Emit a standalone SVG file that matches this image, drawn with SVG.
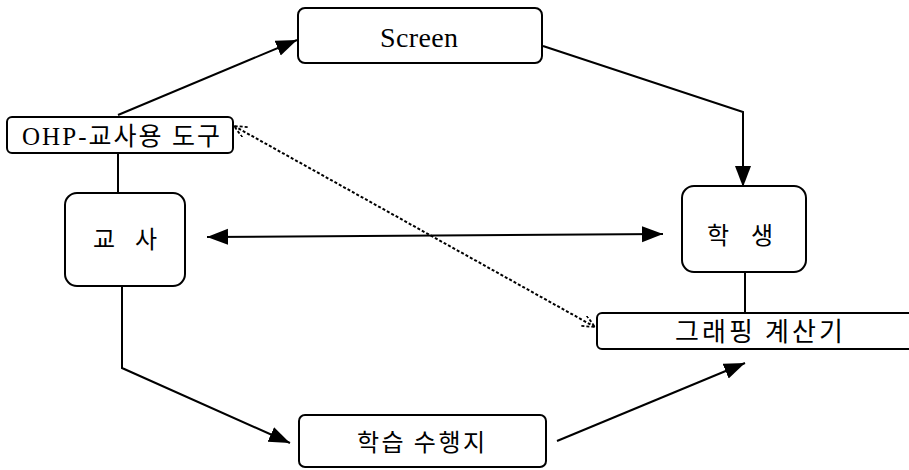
<svg xmlns="http://www.w3.org/2000/svg" width="909" height="470" viewBox="0 0 909 470">
<style>
.box{fill:#fff;stroke:#000;stroke-width:2}
.ln{fill:none;stroke:#000;stroke-width:2}
.dot{fill:none;stroke:#000;stroke-width:2;stroke-dasharray:3 2}
.lat{font-family:"Liberation Serif","Noto Sans CJK KR",serif;fill:#000}
.kr{font-family:"Noto Sans CJK KR","Liberation Serif",sans-serif;fill:#000}
</style>
<defs>
<marker id="ah" markerUnits="userSpaceOnUse" markerWidth="24" markerHeight="18" refX="21" refY="8" orient="auto-start-reverse">
<path d="M0,0 L21,8 L0,16 z" fill="#000"/>
</marker>
<marker id="oh" markerUnits="userSpaceOnUse" markerWidth="16" markerHeight="14" refX="13" refY="6" orient="auto-start-reverse">
<path d="M0,0 L13,6 L0,12" fill="none" stroke="#000" stroke-width="1.8" stroke-dasharray="3 2"/>
</marker>
</defs>
<g id="connectors">
<line class="ln" x1="118" y1="115" x2="297" y2="40" marker-end="url(#ah)"/>
<polyline class="ln" points="543,46 743,112 743,187" marker-end="url(#ah)"/>
<line class="ln" x1="118" y1="154" x2="118" y2="193"/>
<line class="ln" x1="207" y1="237" x2="663" y2="234" marker-start="url(#ah)" marker-end="url(#ah)"/>
<line class="ln" x1="745" y1="272" x2="745" y2="313"/>
<polyline class="ln" points="122,287 122,368 290,443" marker-end="url(#ah)"/>
<line class="ln" x1="557" y1="441" x2="745" y2="363" marker-end="url(#ah)"/>
<line class="dot" x1="234" y1="126" x2="595" y2="327" marker-start="url(#oh)" marker-end="url(#oh)"/>
</g>
<g id="screen">
<rect class="box" x="298" y="8" width="244" height="55" rx="7"/>
<text class="lat" x="380" y="47" font-size="28" textLength="78" lengthAdjust="spacing">Screen</text>
</g>
<g id="ohp">
<rect class="box" x="7" y="117" width="226" height="36" rx="5"/>
<text class="lat" x="22" y="145" font-size="25" textLength="198" lengthAdjust="spacing">OHP-교사용 도구</text>
</g>
<g id="teacher">
<rect class="box" x="65" y="193" width="120" height="93" rx="12"/>
<text class="kr" x="93" y="248" font-size="24" textLength="64" lengthAdjust="spacing">교 사</text>
</g>
<g id="student">
<rect class="box" x="682" y="186" width="124" height="86" rx="12"/>
<text class="kr" x="707" y="244" font-size="24" textLength="66" lengthAdjust="spacing">학 생</text>
</g>
<g id="calculator">
<rect class="box" x="597" y="313" width="330" height="36" rx="5"/>
<text class="kr" x="675" y="341" font-size="26" textLength="168" lengthAdjust="spacing">그래핑 계산기</text>
</g>
<g id="worksheet">
<rect class="box" x="299" y="415" width="247" height="52" rx="6"/>
<text class="kr" x="357" y="451" font-size="24" textLength="128" lengthAdjust="spacing">학습 수행지</text>
</g>
</svg>
